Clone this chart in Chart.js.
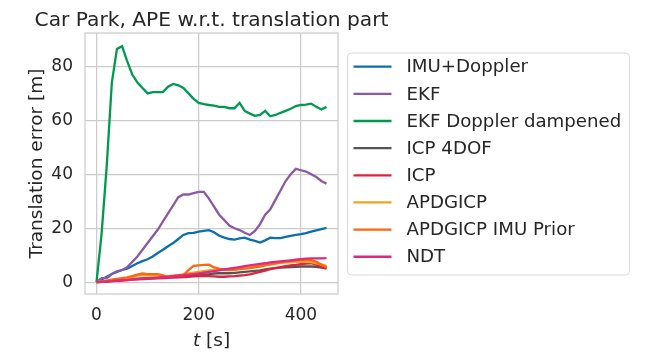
<!DOCTYPE html>
<html>
<head>
<meta charset="utf-8">
<script src="https://cdn.jsdelivr.net/npm/chart.js@4.4.1/dist/chart.umd.min.js"></script>
<style>
html,body{margin:0;padding:0;background:#fff;}
#wrap{width:661px;height:352px;position:relative;}
</style>
</head>
<body>
<div id="wrap"><canvas id="c" width="661" height="352"></canvas></div>
<script>
// ---- data ----
const times = [0,10,20,30,40,50,60,70,80,90,100,110,120,130,140,150,160,170,180,190,200,210,220,230,240,250,260,270,280,290,300,310,320,330,340,350,360,370,380,390,400,410,420,430,440,450];

const imuDoppler = [0,1,2,3,3.8,4.5,5,6,7,7.8,8.5,9.5,10.8,12,13.3,14.5,16,17.5,18.2,18.3,18.7,19,19.3,18.5,17.2,16.5,16,15.8,16.2,16.5,15.8,15.3,14.7,15.5,16.5,16.3,16.3,16.8,17.2,17.5,17.8,18.2,18.7,19.2,19.7,20.1];
const ekf = [0,1.5,1.5,3,4,4.5,5.5,7.5,9.5,12,14.5,17,19.5,22.5,25.5,28.5,31.5,32.5,32.5,33,33.5,33.5,31,28,25,23,21,20,19.3,18.3,17.5,19,21.5,25,27,30.5,34,37.5,40,42,41.5,41,40,39,37.5,36.5];
const ekfDamped = [0,18,43,74,86.5,87.5,82,77,74,72,70,70.5,70.5,70.5,72.5,73.5,73,72,70,68,66.5,66,65.7,65.5,65,65,64.5,64.5,66.5,63.5,62.5,61.7,62,63.5,61.5,62,62.8,63.5,64.3,65.3,65.7,65.8,66.2,65,64,65];
const icp4dof = [0,0.1,0.3,0.5,0.7,0.8,1,1.2,1.3,1.4,1.5,1.6,1.7,1.8,1.9,2,2.1,2.2,2.3,2.5,2.7,2.9,3,3.2,3.3,3.3,3.3,3.4,3.6,3.8,4,4.2,4.4,4.7,5,5.2,5.4,5.5,5.6,5.7,5.8,5.8,5.8,5.7,5.4,5.2];
const icp = [0,0.1,0.2,0.4,0.5,0.6,0.8,0.9,1,1.1,1.2,1.3,1.4,1.5,1.6,1.7,1.8,1.9,2,2.1,2.2,2.3,2.2,2.1,2,2,2.1,2.2,2.4,2.6,2.9,3.3,3.8,4.3,4.8,5.2,5.6,5.9,6.2,6.4,6.7,6.9,7,6.5,5.6,5];
const apdgicp = [0,0.2,0.5,0.7,1,1.2,1.5,1.8,2.4,2.6,2.5,2.4,2.3,2.2,2.2,2.4,2.6,2.9,3.2,3.5,3.8,4.1,4.4,4.5,4.6,4.7,4.9,5.1,5.3,5.5,5.6,5.8,6,6.3,6.6,6.9,7.1,7.3,7.4,7.5,7.6,7.5,7.4,7,6.5,6];
const apdgicpImu = [0,0.3,0.6,0.9,1.2,1.5,1.8,2.2,2.8,3.2,3,3,3,2.5,2,2.2,2.4,2.6,4.5,6,6.2,6.4,6.5,5.5,5,4.6,4.5,4.6,4.8,5,5.2,5.5,5.8,6.2,6.6,7,7.3,7.6,7.9,8.1,8.3,8.4,8.2,7.5,6.5,5.6];
const ndt = [0,0.1,0.3,0.4,0.6,0.7,0.8,1,1.1,1.3,1.4,1.5,1.7,1.9,2,2.2,2.4,2.6,2.8,3,3.2,3.5,3.8,4.1,4.4,4.7,5,5.3,5.6,5.9,6.2,6.5,6.8,7,7.3,7.5,7.7,7.9,8.1,8.3,8.5,8.7,8.8,8.8,8.8,8.9];

const seriesNames = ["IMU+Doppler","EKF","EKF Doppler dampened","ICP 4DOF","ICP","APDGICP","APDGICP IMU Prior","NDT"];
const seriesValues = [imuDoppler, ekf, ekfDamped, icp4dof, icp, apdgicp, apdgicpImu, ndt];
const seriesColors = ["#0a6fb0","#8b59a5","#009a4e","#555555","#de2240","#f5a11c","#f7680f","#e0297e"];

const xTicks = [0,200,400];
const yTicks = [0,20,40,60,80];

const titleText = "Car Park, APE w.r.t. translation part";
const yLabel = "Translation error [m]";
const xLabelItalic = "t";
const xLabelRest = " [s]";

// ---- chart ----
const FONT = "'DejaVu Sans', sans-serif";
const TXT = "#262626";
const GRID = "#cccccc";
const LBL = 18.5;
const TICK = 17;

const datasets = seriesNames.map((name, i) => ({
  label: name,
  data: times.map((t, k) => ({x: t, y: seriesValues[i][k]})),
  borderColor: seriesColors[i],
  backgroundColor: seriesColors[i],
  borderWidth: 2.3,
  pointRadius: 0,
  tension: 0,
  fill: false,
  order: seriesNames.length - i
}));

const decor = {
  id: 'decor',
  afterDatasetsDraw(chart) {
    const ctx = chart.ctx;
    const a = chart.chartArea;
    ctx.save();
    ctx.strokeStyle = GRID;
    ctx.lineWidth = 1.25;
    ctx.strokeRect(a.left, a.top, a.right - a.left, a.bottom - a.top);
    ctx.restore();
  },
  afterDraw(chart) {
    const ctx = chart.ctx;
    const a = chart.chartArea;
    ctx.save();
    ctx.fillStyle = TXT;
    // title
    ctx.font = "20.2px " + FONT;
    ctx.textAlign = "center";
    ctx.textBaseline = "alphabetic";
    ctx.fillText(titleText, (a.left + a.right) / 2, 26);
    // y label
    ctx.save();
    ctx.translate(37, (a.top + a.bottom) / 2);
    ctx.rotate(-Math.PI / 2);
    ctx.font = LBL + "px " + FONT;
    ctx.textAlign = "center";
    ctx.textBaseline = "middle";
    ctx.fillText(yLabel, 0, 0);
    ctx.restore();
    // x label
    ctx.font = "italic " + LBL + "px " + FONT;
    const w1 = ctx.measureText(xLabelItalic).width;
    ctx.font = LBL + "px " + FONT;
    const w2 = ctx.measureText(xLabelRest).width;
    const x0 = (a.left + a.right) / 2 - (w1 + w2) / 2;
    ctx.textAlign = "left";
    ctx.font = "italic " + LBL + "px " + FONT;
    ctx.fillText(xLabelItalic, x0, 346);
    ctx.font = LBL + "px " + FONT;
    ctx.fillText(xLabelRest, x0 + w1, 346);

    // legend
    const lx = 347.5, ly = 53, lw = 282, lh = 222;
    ctx.beginPath();
    if (ctx.roundRect) ctx.roundRect(lx, ly, lw, lh, 4); else ctx.rect(lx, ly, lw, lh);
    ctx.fillStyle = "rgba(255,255,255,0.8)";
    ctx.fill();
    ctx.strokeStyle = "#d9d9d9";
    ctx.lineWidth = 1;
    ctx.stroke();
    ctx.font = "18.2px " + FONT;
    ctx.textBaseline = "middle";
    chart.data.datasets.forEach((ds, i) => {
      const y = 66.7 + i * 27.15;
      ctx.strokeStyle = ds.borderColor;
      ctx.lineWidth = 2.3;
      ctx.beginPath();
      ctx.moveTo(353.5, y);
      ctx.lineTo(391.5, y);
      ctx.stroke();
      ctx.fillStyle = TXT;
      ctx.fillText(ds.label, 406.5, y + 1);
    });
    ctx.restore();
  }
};

new Chart(document.getElementById('c'), {
  type: 'line',
  data: { datasets },
  options: {
    responsive: false,
    animation: false,
    devicePixelRatio: 1,
    layout: { padding: { left: 0, top: 33, right: 323, bottom: 0 } },
    plugins: { legend: { display: false }, title: { display: false }, tooltip: { enabled: false } },
    scales: {
      x: {
        type: 'linear',
        min: -22.5, max: 472.5,
        afterBuildTicks: s => { s.ticks = xTicks.map(v => ({value: v})); },
        afterFit: s => { s.height = 58; },
        grid: { color: GRID, lineWidth: 1.25, drawTicks: false },
        border: { display: false },
        ticks: { color: TXT, font: { family: FONT, size: TICK }, padding: 11, maxRotation: 0 }
      },
      y: {
        type: 'linear',
        min: -4.4, max: 92.4,
        afterBuildTicks: s => { s.ticks = yTicks.map(v => ({value: v})); },
        afterFit: s => { s.width = 85; },
        grid: { color: GRID, lineWidth: 1.25, drawTicks: false },
        border: { display: false },
        ticks: { color: TXT, font: { family: FONT, size: TICK }, padding: 12 }
      }
    }
  },
  plugins: [decor]
});
</script>
</body>
</html>
